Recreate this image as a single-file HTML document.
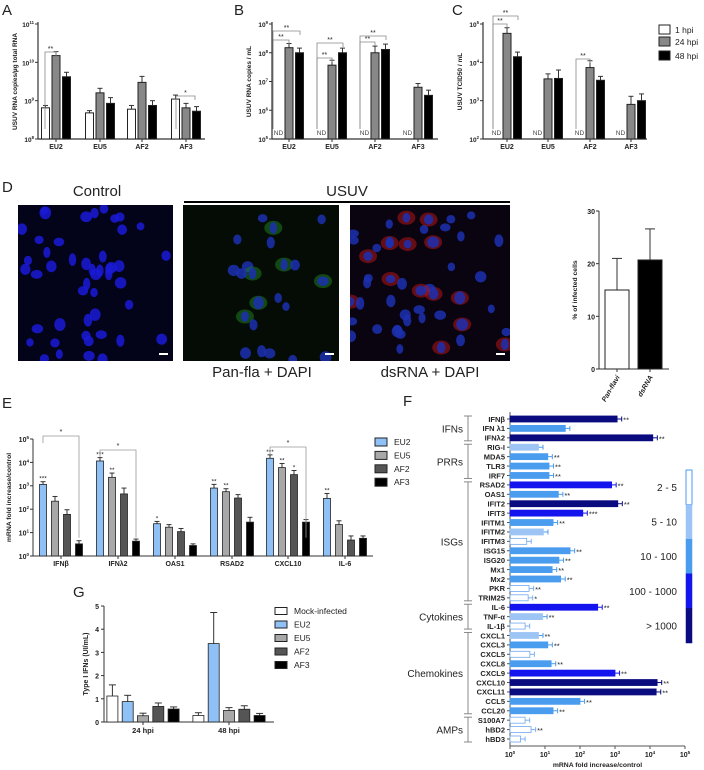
<!DOCTYPE html>
<html><head><meta charset="utf-8"><style>
html,body{margin:0;padding:0;background:#fff;}
svg{display:block;font-family:"Liberation Sans",Arial,sans-serif;}
</style></head><body>
<svg id="fig" width="704" height="770" viewBox="0 0 704 770" xmlns="http://www.w3.org/2000/svg"></svg>
<script>
// ---------- DATA ----------
const abcStrains = ["EU2","EU5","AF2","AF3"];
const aVals = [[6.5e8,1.5e10,4.2e9],[4.8e8,1.6e9,8.5e8],[6e8,3e9,7.5e8],[1.1e9,6.5e8,5.3e8]];
const aErr  = [[7.5e8,1.9e10,5.5e9],[5.5e8,2.1e9,1.2e9],[7.5e8,4.3e9,1.0e9],[1.4e9,8.5e8,7e8]];
const bVals = [[null,1.5e8,1e8],[null,3.7e7,1e8],[null,1e8,1.3e8],[null,6.3e6,3.3e6]];
const bErr  = [[null,2.1e8,1.45e8],[null,5.5e7,1.45e8],[null,1.7e8,2e8],[null,8.5e6,5e6]];
const cVals = [[null,5.7e4,1.4e4],[null,3.7e3,3.8e3],[null,7.3e3,3.4e3],[null,800,1000]];
const cErr  = [[null,8e4,1.85e4],[null,5e3,6.3e3],[null,1.1e4,4.3e3],[null,1.3e3,1.5e3]];
const hpiLabels = ["1 hpi","24 hpi","48 hpi"];
const dCats = ["Pan-flavi","dsRNA"];
const dVals = [15,20.7];
const dErr = [21,26.6];
const eGenes = ["IFNβ","IFNλ2","OAS1","RSAD2","CXCL10","IL-6"];
const eSeries = ["EU2","EU5","AF2","AF3"];
const eVals = [[1150,220,60,3.3],[11500,2300,450,4.3],[24,17,11,2.8],[800,560,300,28],[15000,6000,3000,28],[290,22,4.8,5.7]];
const eErrs = [[1500,350,95,4.5],[16000,3500,800,5.3],[30,22,15,3.3],[1150,750,420,45],[21000,9000,4500,36],[470,32,7.2,7.2]];
const eStars = [["***","","",""],["***","**","",""],["*","","",""],["**","**","",""],["***","**","*",""],["**","","",""]];
const gGroups = ["24 hpi","48 hpi"];
const gSeries = ["Mock-infected","EU2","EU5","AF2","AF3"];
const gVals = [[1.12,0.88,0.27,0.67,0.56],[0.28,3.38,0.5,0.55,0.28]];
const gErr  = [[1.6,1.15,0.38,0.82,0.65],[0.4,4.72,0.62,0.7,0.37]];
const fGenes = ["IFNβ","IFN λ1","IFNλ2","RIG-I","MDA5","TLR3","IRF7","RSAD2","OAS1","IFIT2","IFIT3","IFITM1","IFITM2","IFITM3","ISG15","ISG20","Mx1","Mx2","PKR","TRIM25","IL-6","TNF-α","IL-1β","CXCL1","CXCL3","CXCL5","CXCL8","CXCL9","CXCL10","CXCL11","CCL5","CCL20","S100A7","hBD2","hBD3"];
const fVals = [1150,38,12000,6.5,12,13,13,800,24,1200,120,17,9,3,52,25,16,28,3.5,3.3,320,8.5,2.7,6.5,12,3.7,15,1000,16000,15000,100,17,2.7,4,2];
const fStars = ["**","","**","","**","**","**","**","**","**","***","**","","","**","**","**","**","**","*","**","**","","**","**","","**","**","**","**","**","**","","**",""];
const fClass = [5,3,5,2,3,3,3,4,3,5,4,3,2,1,3,3,3,3,1,1,4,2,1,2,3,1,3,4,5,5,3,3,1,1,1];
const fGroupNames = ["IFNs","PRRs","ISGs","Cytokines","Chemokines","AMPs"];
const fGroupStart = [0,3,7,20,23,32];
const fGroupEnd = [2,6,19,22,31,34];
const legendRanges = ["2 - 5","5 - 10","10 - 100","100 - 1000","> 1000"];

// ---------- HELPERS ----------
const NS="http://www.w3.org/2000/svg";
const svg=document.getElementById('fig');
function el(tag,attrs,parent,text){const e=document.createElementNS(NS,tag);for(const k in attrs)e.setAttribute(k,attrs[k]);if(text!==undefined)e.textContent=text;(parent||svg).appendChild(e);return e;}
function grp(name){const g=el('g',{});return g;}
function logScale(vmin,vmax,p0,p1){const a=Math.log10(vmin),b=Math.log10(vmax);return v=>p0+(Math.log10(v)-a)/(b-a)*(p1-p0);}
function linScale(vmin,vmax,p0,p1){return v=>p0+(v-vmin)/(vmax-vmin)*(p1-p0);}
function supLabel(g,x,y,base,exp,size){const t=el('text',{x:x,y:y,'text-anchor':'end','font-size':size,'font-weight':'bold',fill:'#222'},g);
  el('tspan',{},t,base);el('tspan',{dy:-size*0.45,'font-size':size*0.65},t,exp);return t;}
function panelLetter(x,y,L){const t=el('text',{x:x,y:y,'font-size':15,fill:'#222'},svg,L);}

// ---------- PANELS A, B, C ----------
const hpiFill=["#fff","#888","#000"];
function abc(name,axX,xEnd,centers,vmin,vmax,vals,errs,ytitle,showND,brackets){
  const g=grp(name);
  const top=24,bot=139;
  const ys=logScale(vmin,vmax,bot,top);
  el('line',{x1:axX,y1:top-2,x2:axX,y2:bot,stroke:'#333','stroke-width':1.2},g);
  el('line',{x1:axX,y1:bot,x2:xEnd,y2:bot,stroke:'#333','stroke-width':1.2},g);
  const e0=Math.round(Math.log10(vmin)),e1=Math.round(Math.log10(vmax));
  for(let e=e0;e<=e1;e++){const y=ys(Math.pow(10,e));el('line',{x1:axX-3,y1:y,x2:axX,y2:y,stroke:'#333'},g);supLabel(g,axX-4,y+3,'10',String(e),6.5);}
  const yt=el('text',{x:0,y:0,transform:`translate(${axX-21},${(top+bot)/2}) rotate(-90)`,'text-anchor':'middle','font-size':6.5,'font-weight':'bold',fill:'#222'},g,ytitle);
  
  abcStrains.forEach((s,i)=>{
    const cx=centers[i];
    el('line',{x1:cx,y1:bot,x2:cx,y2:bot+3,stroke:'#333'},g);
    const lt=el('text',{x:cx,y:bot+10,'text-anchor':'middle','font-size':7,'font-weight':'bold',fill:'#222'},g,s);
    
    for(let j=0;j<3;j++){
      const bx=cx+(j-1)*10.5-4;
      const v=vals[i][j];
      if(v===null){ if(showND){el('text',{x:bx+4,y:bot-4,'text-anchor':'middle','font-size':6.5,fill:'#444'},g,'ND');} continue;}
      const y=ys(v),ye=ys(errs[i][j]);
      el('line',{x1:bx+4,y1:ye,x2:bx+4,y2:y,stroke:'#333','stroke-width':1},g);
      el('line',{x1:bx+1.5,y1:ye,x2:bx+6.5,y2:ye,stroke:'#333','stroke-width':1},g);
      const r=el('rect',{x:bx,y:y,width:8,height:bot-y,fill:hpiFill[j],stroke:'#222','stroke-width':1},g);
      
    }
  });
  brackets.forEach(b=>{
    const [x1,x2,yTop,star]=b;
    el('path',{d:`M${x1},${bot-10} V${yTop} H${x2} V${yTop+4}`,fill:'none',stroke:'#888','stroke-width':0.8},g);
    el('text',{x:(x1+x2)/2,y:yTop-1,'text-anchor':'middle','font-size':7,fill:'#222'},g,star);
  });
}
panelLetter(2,15,'A');panelLetter(234,15,'B');panelLetter(452,15,'C');
abc('panel-a-chart',38,205,[56,100,142,186],1e8,1e11,aVals,aErr,'USUV RNA copies/µg total RNA',false,[[45,56,52,'**'],[176,195,96,'*']]);
abc('panel-b-chart',272,438,[289,332,375,418],1e5,1e9,bVals,bErr,'USUV RNA copies / mL',true,[[273,289,40,'**'],[273,300,31,'**'],[317,332,58,'**'],[317,343,43,'**'],[360,375,42,'**'],[360,386,36,'**']]);
abc('panel-c-chart',483,647,[507,548,590,631],1e2,1e5,cVals,cErr,'USUV TCID50 / mL',true,[[493,507,24,'**'],[493,518,16,'**'],[576,590,59,'**']]);
(function(){const g=grp('hpi-legend');[30,42,56].forEach((y,j)=>{el('rect',{x:659,y:y-5,width:11,height:9,fill:hpiFill[j],stroke:'#222'},g);
 const t=el('text',{x:675,y:y+3,'font-size':8.5,fill:'#222'},g,hpiLabels[j]);});})();

// ---------- PANEL D ----------
panelLetter(2,192,'D');
(function(){
  const g=grp('panel-d-images');
  el('text',{x:97,y:196,'text-anchor':'middle','font-size':15,fill:'#222'},g,'Control');
  el('text',{x:347,y:196,'text-anchor':'middle','font-size':15,fill:'#222'},g,'USUV');
  el('line',{x1:184,y1:202,x2:510,y2:202,stroke:'#000','stroke-width':2},g);
  const imgs=[[18,155,'control-image',null],[183,156,'pan-fla-image','#1e7a1e'],[350,160,'dsrna-image','#b01515']];
  let seed=7;function rnd(){seed=(seed*9301+49297)%233280;return seed/233280;}
  imgs.forEach(([x,w,nm,stain],k)=>{
    const y=205,h=156;
    const ig=el('g',{},g);
    el('rect',{x:x,y:y,width:w,height:h,fill:k===1?'#050c05':(k===2?'#0a0310':'#03031a')},ig);
    const cp=el('clipPath',{id:'cp'+k},ig);
    el('rect',{x:x,y:y,width:w,height:h},cp);
    const cg=el('g',{'clip-path':`url(#cp${k})`},ig);
    const n=k===1?22:48;
    for(let i=0;i<n;i++){
      let cx,cy;
      if(k===1){cx=x+45+rnd()*110;cy=y+10+rnd()*150;}else{cx=x+rnd()*w;cy=y+rnd()*h;}
      if(stain && rnd()<0.25){el('ellipse',{cx:cx,cy:cy,rx:9,ry:7,fill:stain,opacity:0.55},cg);}
      el('ellipse',{cx:cx,cy:cy,rx:3.5+rnd()*2.5,ry:4+rnd()*2.5,fill:k===0?'#1a1ad8':'#1c30b0',opacity:0.85},cg);
    }
    el('rect',{x:x+w-14,y:y+h-8,width:9,height:2,fill:'#fff'},ig);
  });
  el('text',{x:262,y:377,'text-anchor':'middle','font-size':15,fill:'#222'},g,'Pan-fla + DAPI');
  el('text',{x:430,y:377,'text-anchor':'middle','font-size':15,fill:'#222'},g,'dsRNA + DAPI');
  const cg=grp('panel-d-chart');
  const top=211,bot=369,ax=599,xe=669;
  const ys=linScale(0,30,bot,top);
  el('line',{x1:ax,y1:top,x2:ax,y2:bot,stroke:'#333'},cg);el('line',{x1:ax,y1:bot,x2:xe,y2:bot,stroke:'#333'},cg);
  [0,10,20,30].forEach(v=>{const y=ys(v);el('line',{x1:ax-3,y1:y,x2:ax,y2:y,stroke:'#333'},cg);el('text',{x:ax-4,y:y+3,'text-anchor':'end','font-size':7,'font-weight':'bold',fill:'#222'},cg,String(v));});
  el('text',{transform:`translate(${ax-22},${(top+bot)/2}) rotate(-90)`,'text-anchor':'middle','font-size':6.8,'font-weight':'bold',fill:'#222'},cg,'% of infected cells');
  const bx=[605,638];const fills=['#fff','#000'];
  dCats.forEach((c,i)=>{const y=ys(dVals[i]),ye=ys(dErr[i]);const cx=bx[i]+12;
    el('line',{x1:cx,y1:ye,x2:cx,y2:y,stroke:'#333'},cg);el('line',{x1:cx-5,y1:ye,x2:cx+5,y2:ye,stroke:'#333'},cg);
    const r=el('rect',{x:bx[i],y:y,width:24,height:bot-y,fill:fills[i],stroke:'#222'},cg);
    el('line',{x1:cx,y1:bot,x2:cx,y2:bot+3,stroke:'#333'},cg);
    el('text',{transform:`translate(${cx+3},${bot+8}) rotate(-60)`,'text-anchor':'end','font-size':7,'font-weight':'bold','font-style':'italic',fill:'#222'},cg,c);
  });
})();

// ---------- PANEL E ----------
panelLetter(2,408,'E');
const eFill=["#8fc0f6","#a8a8a8","#555","#000"];
(function(){
  const g=grp('panel-e-chart');
  const ax=33,xe=373,top=439,bot=556;
  const ys=logScale(1,1e5,bot,top);
  el('line',{x1:ax,y1:top,x2:ax,y2:bot,stroke:'#333'},g);el('line',{x1:ax,y1:bot,x2:xe,y2:bot,stroke:'#333'},g);
  for(let e=0;e<=5;e++){const y=ys(Math.pow(10,e));el('line',{x1:ax-3,y1:y,x2:ax,y2:y,stroke:'#333'},g);supLabel(g,ax-4,y+3,'10',String(e),7);}
  el('text',{transform:`translate(${ax-22},${(top+bot)/2}) rotate(-90)`,'text-anchor':'middle','font-size':6.8,'font-weight':'bold',fill:'#222'},g,'mRNA fold increase/control');
  const centers=[61,118,175,232,288,345];
  eGenes.forEach((gn,i)=>{
    const cx=centers[i];
    el('line',{x1:cx,y1:bot,x2:cx,y2:bot+3,stroke:'#333'},g);
    el('text',{x:cx,y:bot+10,'text-anchor':'middle','font-size':7,'font-weight':'bold',fill:'#222'},g,gn);
    eSeries.forEach((s,j)=>{
      const bx=cx+(j-1.5)*12-3.5;const y=ys(eVals[i][j]),ye=ys(eErrs[i][j]);
      el('line',{x1:bx+3.5,y1:ye,x2:bx+3.5,y2:y,stroke:'#333'},g);el('line',{x1:bx+1,y1:ye,x2:bx+6,y2:ye,stroke:'#333'},g);
      const r=el('rect',{x:bx,y:y,width:7,height:bot-y,fill:eFill[j],stroke:'#222','stroke-width':0.8},g);
      
      if(eStars[i][j])el('text',{x:bx+3.5,y:ye-1,'text-anchor':'middle','font-size':6.5,fill:'#222'},g,eStars[i][j]);
    });
  });
  [[43,79,436],[100,136,450],[270,306,447]].forEach(([x1,x2,yy])=>{el('path',{d:`M${x1},${yy+7} V${yy} H${x2} V${ys(6)}`,fill:'none',stroke:'#999','stroke-width':0.8},g);el('text',{x:(x1+x2)/2,y:yy-2,'text-anchor':'middle','font-size':7,fill:'#222'},g,'*');});
  const lg=grp('panel-e-legend');
  eSeries.forEach((s,j)=>{const y=442+j*13.4;el('rect',{x:375,y:y-4,width:12,height:8,fill:eFill[j],stroke:'#222'},lg);
    const t=el('text',{x:394,y:y+3,'font-size':8.5,fill:'#222'},lg,s);});
})();

// ---------- PANEL G ----------
panelLetter(73,597,'G');
const gFill=["#fff","#8fc0f6","#a8a8a8","#555","#000"];
(function(){
  const g=grp('panel-g-chart');
  const ax=104,xe=274,top=606,bot=722;
  const ys=linScale(0,5,bot,top);
  el('line',{x1:ax,y1:top,x2:ax,y2:bot,stroke:'#333'},g);el('line',{x1:ax,y1:bot,x2:xe,y2:bot,stroke:'#333'},g);
  for(let v=0;v<=5;v++){const y=ys(v);el('line',{x1:ax-3,y1:y,x2:ax,y2:y,stroke:'#333'},g);el('text',{x:ax-5,y:y+3,'text-anchor':'end','font-size':7,'font-weight':'bold',fill:'#222'},g,String(v));}
  el('text',{transform:`translate(${ax-16},${(top+bot)/2}) rotate(-90)`,'text-anchor':'middle','font-size':7,'font-weight':'bold',fill:'#222'},g,'Type I IFNs (UI/mL)');
  const centers=[143,229];
  gGroups.forEach((gn,i)=>{
    el('line',{x1:centers[i],y1:bot,x2:centers[i],y2:bot+3,stroke:'#333'},g);
    el('text',{x:centers[i],y:bot+11,'text-anchor':'middle','font-size':7.5,'font-weight':'bold',fill:'#222'},g,gn);
    gSeries.forEach((s,j)=>{const bx=centers[i]+(j-2)*15.3-5.5;const y=ys(gVals[i][j]),ye=ys(gErr[i][j]);
      el('line',{x1:bx+5.5,y1:ye,x2:bx+5.5,y2:y,stroke:'#333'},g);el('line',{x1:bx+2,y1:ye,x2:bx+9,y2:ye,stroke:'#333'},g);
      const r=el('rect',{x:bx,y:y,width:11,height:bot-y,fill:gFill[j],stroke:'#222','stroke-width':0.8},g);
      });
  });
  const lg=grp('panel-g-legend');
  gSeries.forEach((s,j)=>{const y=611+j*13.5;el('rect',{x:275,y:y-3.5,width:12,height:7,fill:gFill[j],stroke:'#222'},lg);
    const t=el('text',{x:294,y:y+3,'font-size':8.5,fill:'#222'},lg,s);});
})();

// ---------- PANEL F ----------
panelLetter(403,406,'F');
const fColors=["#ffffff","#9cc4f5","#4a9cef","#1414ee","#0b0b80"];
(function(){
  const g=grp('panel-f-chart');
  const x0=510,x1=685,y0=419,step=(739-419)/34,axY=746;
  const xs=logScale(1,1e5,x0,x1);
  el('line',{x1:x0,y1:412,x2:x0,y2:axY,stroke:'#555'},g);el('line',{x1:x0,y1:axY,x2:x1,y2:axY,stroke:'#555'},g);
  for(let e=0;e<=5;e++){const x=xs(Math.pow(10,e));el('line',{x1:x,y1:axY,x2:x,y2:axY+3,stroke:'#555'},g);
    const t=el('text',{x:x,y:axY+11,'text-anchor':'middle','font-size':7,'font-weight':'bold',fill:'#222'},g);el('tspan',{},t,'10');el('tspan',{dy:-3,'font-size':4.5},t,String(e));}
  el('text',{x:(x0+x1)/2,y:767,'text-anchor':'middle','font-size':6.8,'font-weight':'bold',fill:'#222'},g,'mRNA fold increase/control');
  fGenes.forEach((gn,i)=>{
    const y=y0+i*step;const c=fClass[i];const w=xs(fVals[i])-x0;const col=c===1?'#7fb0f0':(c===5?'#0b0b80':(c===4?'#1414ee':'#4a9cef'));
    el('line',{x1:x0-3,y1:y,x2:x0,y2:y,stroke:'#555'},g);
    el('text',{x:505,y:y+2.8,'text-anchor':'end','font-size':7.5,'font-weight':'bold',fill:'#222'},g,gn);
    const ex=xs(fVals[i]*1.35);
    el('line',{x1:x0+w,y1:y,x2:ex,y2:y,stroke:col,'stroke-width':1},g);el('line',{x1:ex,y1:y-2.5,x2:ex,y2:y+2.5,stroke:col},g);
    const r=el('rect',{x:x0,y:y-3,width:w,height:6,fill:fColors[c-1],stroke:c===1?'#6fa8f0':fColors[c-1],'stroke-width':0.8},g);
    
    if(fStars[i])el('text',{x:ex+1.5,y:y+3.5,'font-size':7.5,fill:'#222'},g,fStars[i]);
  });
  fGroupNames.forEach((nm,k)=>{
    const ya=y0+fGroupStart[k]*step-3,yb=y0+fGroupEnd[k]*step+3;
    el('line',{x1:468,y1:ya,x2:468,y2:yb,stroke:'#888','stroke-width':1},g);
    el('line',{x1:464,y1:ya,x2:472,y2:ya,stroke:'#888'},g);el('line',{x1:464,y1:yb,x2:472,y2:yb,stroke:'#888'},g);
    const t=el('text',{x:463,y:(ya+yb)/2+4,'text-anchor':'end','font-size':10,fill:'#222'},g,nm);
    
  });
  const lg=grp('panel-f-color-legend');
  const ly=[470,504.6,539.2,573.8,608.4];
  legendRanges.forEach((r,k)=>{
    el('rect',{x:686,y:ly[k],width:6,height:34.6,fill:fColors[k],stroke:k===0?'#4a9cef':fColors[k],'stroke-width':k===0?1:0.5},lg);
    const t=el('text',{x:677,y:ly[k]+21,'text-anchor':'end','font-size':10,fill:'#222'},lg,r);
  });
})();
</script>
</body></html>
